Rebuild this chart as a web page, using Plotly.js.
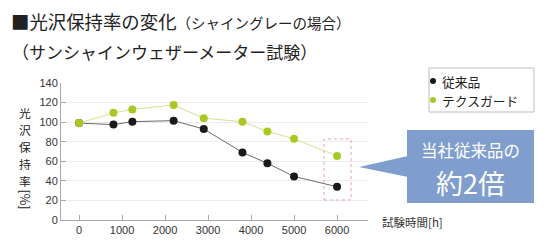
<!DOCTYPE html>
<html>
<head>
<meta charset="utf-8">
<script src="https://cdn.plot.ly/plotly-3.0.1.min.js"></script>
<style>html,body{margin:0;padding:0;background:#fff;}#chart{width:544px;height:244px;}</style>
</head>
<body>
<div id="chart"></div>
<script>
// ---- data ----
const hours = [0, 800, 1240, 2200, 2900, 3800, 4380, 5000, 6000];
const conventional = [99, 97.5, 100.5, 101.5, 93, 69, 58, 44.5, 34];
const texguard = [99, 109.5, 113, 117.5, 104, 100.5, 90.5, 83, 65.5];
const seriesNames = ["従来品", "テクスガード"];
const xTicks = [0, 1000, 2000, 3000, 4000, 5000, 6000];
const yTicks = [0, 20, 40, 60, 80, 100, 120, 140];
const titleMain = "■光沢保持率の変化";
const titleSub = "（シャイングレーの場合）";
const titleLine2 = "（サンシャインウェザーメーター試験）";
const yTitleChars = ["光", "沢", "保", "持", "率"];
const yTitleUnit = "[%]";
const xTitle = "試験時間[h]";
const calloutLine1 = "当社従来品の";
const calloutLine2 = "約2倍";

// ---- layout helpers (pixel -> paper) ----
const W = 544, H = 244;
const L = 61, R = 368, T = 83, B = 220;
const px = x => (x - L) / (R - L);
const py = y => (B - y) / (B - T);

const JP = '"Noto Sans CJK JP", "Noto Sans", sans-serif';
const NUM = '"Liberation Sans", Arial, sans-serif';

const traces = [
  {
    x: hours, y: conventional, name: seriesNames[0], type: 'scatter', mode: 'lines+markers',
    line: {color: '#6a6a6a', width: 1},
    marker: {color: '#1a1a1a', size: 8},
    showlegend: false, hoverinfo: 'x+y'
  },
  {
    x: hours, y: texguard, name: seriesNames[1], type: 'scatter', mode: 'lines+markers',
    line: {color: '#d3e38e', width: 1},
    marker: {color: '#a8c924', size: 8},
    showlegend: false, hoverinfo: 'x+y'
  }
];

const annotations = [];
// second title line
annotations.push({xref: 'paper', yref: 'paper', x: px(11), y: py(51), xanchor: 'left', yanchor: 'middle',
  text: titleLine2, showarrow: false, borderpad: 0, font: {family: JP, size: 17, color: '#222'}});
// y title, stacked upright characters
yTitleChars.forEach((c, i) => {
  annotations.push({xref: 'paper', yref: 'paper', x: px(25), y: py(112.5 + i * 17.1), xanchor: 'center', yanchor: 'middle',
    text: c, showarrow: false, borderpad: 0, font: {family: JP, size: 11.8, color: '#222'}});
});
annotations.push({xref: 'paper', yref: 'paper', x: px(25), y: py(199.5), xanchor: 'center', yanchor: 'middle',
  text: yTitleUnit, textangle: 90, showarrow: false, borderpad: 0, font: {family: JP, size: 12.5, color: '#222'}});
// x title
annotations.push({xref: 'paper', yref: 'paper', x: px(381), y: py(222), xanchor: 'left', yanchor: 'middle',
  text: xTitle, showarrow: false, borderpad: 0, font: {family: JP, size: 11.5, color: '#333'}});
// legend texts
annotations.push({xref: 'paper', yref: 'paper', x: px(441), y: py(81), xanchor: 'left', yanchor: 'middle',
  text: seriesNames[0], showarrow: false, borderpad: 0, font: {family: JP, size: 12.8, color: '#222'}});
annotations.push({xref: 'paper', yref: 'paper', x: px(441), y: py(100), xanchor: 'left', yanchor: 'middle',
  text: seriesNames[1], showarrow: false, borderpad: 0, font: {family: JP, size: 12.8, color: '#222'}});
// callout texts
annotations.push({xref: 'paper', yref: 'paper', x: px(470.5), y: py(150), xanchor: 'center', yanchor: 'middle',
  text: calloutLine1, showarrow: false, borderpad: 0, font: {family: JP, size: 16.5, color: '#ffffff'}});
annotations.push({xref: 'paper', yref: 'paper', x: px(470.5), y: py(182.5), xanchor: 'center', yanchor: 'middle',
  text: calloutLine2, showarrow: false, borderpad: 0, font: {family: JP, size: 27, color: '#ffffff'}});

const shapes = [
  // dotted highlight box around last points
  {type: 'rect', xref: 'paper', yref: 'paper', x0: px(324), x1: px(351), y0: py(200), y1: py(139),
    line: {color: '#e9a3b4', width: 1, dash: 'dot'}, fillcolor: 'rgba(0,0,0,0)'},
  // legend box
  {type: 'rect', xref: 'paper', yref: 'paper', x0: px(429), x1: px(534), y0: py(112), y1: py(68),
    line: {color: '#bdbdbd', width: 1}, fillcolor: '#ffffff'},
  {type: 'circle', xref: 'paper', yref: 'paper', x0: px(430), x1: px(436), y0: py(84), y1: py(78),
    line: {width: 0}, fillcolor: '#1a1a1a'},
  {type: 'circle', xref: 'paper', yref: 'paper', x0: px(430), x1: px(436), y0: py(103), y1: py(97),
    line: {width: 0}, fillcolor: '#a8c924'},
  // callout box and pointer
  {type: 'rect', xref: 'paper', yref: 'paper', x0: px(407), x1: px(534), y0: py(203), y1: py(130),
    line: {width: 0}, fillcolor: '#7f9ecd'},
  {type: 'path', xref: 'paper', yref: 'paper',
    path: `M ${px(359)},${py(167)} L ${px(408)},${py(156)} L ${px(408)},${py(177)} Z`,
    line: {width: 0}, fillcolor: '#7f9ecd'}
];

const layout = {
  width: W, height: H,
  margin: {l: L, r: W - R, t: T, b: H - B, pad: 0},
  paper_bgcolor: '#ffffff', plot_bgcolor: '#ffffff',
  title: {
    text: titleMain + '<span style="font-size:14.5px">' + titleSub + '</span>',
    font: {family: JP, size: 18.4, color: '#222'},
    xref: 'container', yref: 'container', x: 11 / W, xanchor: 'left', y: 1 - 22.5 / H, yanchor: 'middle'
  },
  xaxis: {
    range: [-420, 6720], tickvals: xTicks, ticktext: xTicks.map(String),
    showgrid: false, zeroline: false, showline: true, linecolor: '#a8a8a8', linewidth: 1,
    ticks: 'inside', ticklen: 5, tickcolor: '#a8a8a8',
    tickfont: {family: NUM, size: 11, color: '#333'}, fixedrange: true
  },
  yaxis: {
    range: [0, 140], tickvals: yTicks, ticktext: yTicks.map(String),
    showgrid: true, gridcolor: '#ececec', gridwidth: 1, zeroline: false,
    showline: true, linecolor: '#a8a8a8', linewidth: 1,
    ticks: 'inside', ticklen: 5, tickcolor: '#a8a8a8',
    tickfont: {family: NUM, size: 11, color: '#333'}, fixedrange: true
  },
  showlegend: false,
  annotations: annotations,
  shapes: shapes
};

Plotly.newPlot('chart', traces, layout, {displayModeBar: false, staticPlot: true});
</script>
</body>
</html>
